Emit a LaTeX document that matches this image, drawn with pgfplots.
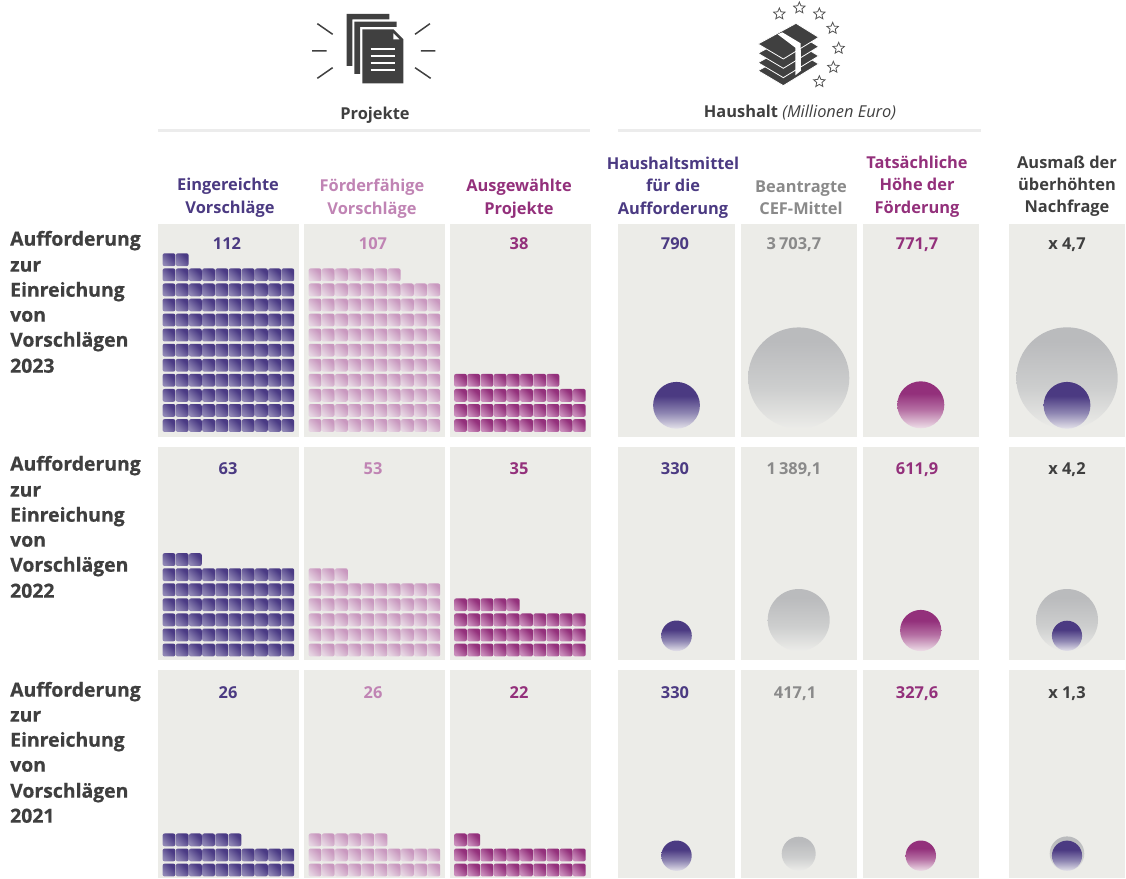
\documentclass[border=0pt]{standalone}
\usepackage{pgfplots}
\pgfplotsset{compat=1.18}
\usepackage{pgfplotstable}
\usepackage{fontspec}
\usetikzlibrary{shapes.geometric}
\setmainfont{Open Sans}
\newfontfamily\heavyfont[FakeBold=0.6]{Open Sans Bold}
\definecolor{cP}{HTML}{4B3A82}
\definecolor{cK}{HTML}{C084B4}
\definecolor{cM}{HTML}{93307B}
\definecolor{cG}{HTML}{8A8A8A}
\definecolor{cD}{HTML}{3F3F3F}
\definecolor{cBg}{HTML}{ECECE8}
\definecolor{cRule}{HTML}{ECECEC}
\definecolor{cIcon}{HTML}{404040}
\definecolor{wP1}{HTML}{8F86B4}\definecolor{wP2}{HTML}{4A3A84}
\definecolor{wK1}{HTML}{E6D5E2}\definecolor{wK2}{HTML}{C998BF}
\definecolor{wM1}{HTML}{C98DBB}\definecolor{wM2}{HTML}{93307B}
\definecolor{bP0}{HTML}{E4E2EA}\definecolor{bP1}{HTML}{8E86B2}\definecolor{bP2}{HTML}{4B3A82}
\definecolor{bM0}{HTML}{EEDFE8}\definecolor{bM1}{HTML}{B56FA3}\definecolor{bM2}{HTML}{93307B}
\definecolor{bG0}{HTML}{ECECE9}\definecolor{bG1}{HTML}{CDCECE}\definecolor{bG2}{HTML}{BABBBD}
\pgfdeclareverticalshading{wafP}{100bp}{color(0bp)=(wP1);color(25bp)=(wP1);color(68bp)=(wP2);color(100bp)=(wP2)}
\pgfdeclareverticalshading{wafK}{100bp}{color(0bp)=(wK1);color(25bp)=(wK1);color(70bp)=(wK2);color(100bp)=(wK2)}
\pgfdeclareverticalshading{wafM}{100bp}{color(0bp)=(wM1);color(25bp)=(wM1);color(68bp)=(wM2);color(100bp)=(wM2)}
\pgfdeclareverticalshading{bubP}{100bp}{color(0bp)=(bP0);color(25bp)=(bP0);color(42bp)=(bP1);color(60bp)=(bP2);color(100bp)=(bP2)}
\pgfdeclareverticalshading{bubM}{100bp}{color(0bp)=(bM0);color(25bp)=(bM0);color(45bp)=(bM1);color(62bp)=(bM2);color(100bp)=(bM2)}
\pgfdeclareverticalshading{bubG}{100bp}{color(0bp)=(bG0);color(25bp)=(bG0);color(45bp)=(bG1);color(68bp)=(bG2);color(100bp)=(bG2)}
\pgfdeclareplotmark{sqP}{\path[draw=none,shading=wafP,shade,shading angle=-45,rounded corners=2pt] (-6.4pt,-6.4pt) rectangle (6.4pt,6.4pt);}
\pgfdeclareplotmark{sqK}{\path[draw=none,shading=wafK,shade,shading angle=-45,rounded corners=2pt] (-6.4pt,-6.4pt) rectangle (6.4pt,6.4pt);}
\pgfdeclareplotmark{sqM}{\path[draw=none,shading=wafM,shade,shading angle=-45,rounded corners=2pt] (-6.4pt,-6.4pt) rectangle (6.4pt,6.4pt);}
\pgfdeclareplotmark{cP}{\path[draw=none,shading=bubP,shade] (0pt,0pt) circle[radius=\pgfplotmarksize];}
\pgfdeclareplotmark{cM}{\path[draw=none,shading=bubM,shade] (0pt,0pt) circle[radius=\pgfplotmarksize];}
\pgfdeclareplotmark{cG}{\path[draw=none,shading=bubG,shade] (0pt,0pt) circle[radius=\pgfplotmarksize];}
% waffle grid: column, row of each successive unit
\pgfplotstableread[row sep=\\]{
c r\\
0 0\\1 0\\2 0\\3 0\\4 0\\5 0\\6 0\\7 0\\8 0\\9 0\\
0 1\\1 1\\2 1\\3 1\\4 1\\5 1\\6 1\\7 1\\8 1\\9 1\\
0 2\\1 2\\2 2\\3 2\\4 2\\5 2\\6 2\\7 2\\8 2\\9 2\\
0 3\\1 3\\2 3\\3 3\\4 3\\5 3\\6 3\\7 3\\8 3\\9 3\\
0 4\\1 4\\2 4\\3 4\\4 4\\5 4\\6 4\\7 4\\8 4\\9 4\\
0 5\\1 5\\2 5\\3 5\\4 5\\5 5\\6 5\\7 5\\8 5\\9 5\\
0 6\\1 6\\2 6\\3 6\\4 6\\5 6\\6 6\\7 6\\8 6\\9 6\\
0 7\\1 7\\2 7\\3 7\\4 7\\5 7\\6 7\\7 7\\8 7\\9 7\\
0 8\\1 8\\2 8\\3 8\\4 8\\5 8\\6 8\\7 8\\8 8\\9 8\\
0 9\\1 9\\2 9\\3 9\\4 9\\5 9\\6 9\\7 9\\8 9\\9 9\\
0 10\\1 10\\2 10\\3 10\\4 10\\5 10\\6 10\\7 10\\8 10\\9 10\\
0 11\\1 11\\2 11\\3 11\\4 11\\5 11\\6 11\\7 11\\8 11\\9 11\\
}\gridtable
\newcommand{\waffle}[4]{\addplot[only marks,mark=#4,skip coords between index={#3}{200}] table[x expr={#1+13.2*\thisrow{c}},y expr={#2-15.07*\thisrow{r}}] {\gridtable};}
\newcommand{\bub}[4]{\addplot[only marks,mark=#1,mark size=#4] coordinates {(#2,#3)};}
\newcommand{\panel}[4]{\fill[cBg] (axis cs:#1,#3) rectangle (axis cs:#2,#4);}
\newcommand{\hd}[4]{\node[anchor=mid,yshift=-3.6pt,inner sep=0pt,text=#1,font=\fontsize{16.4}{18}\selectfont\bfseries] at (axis cs:#2,#3) {#4};}
\newcommand{\val}[4]{\node[anchor=mid,yshift=-4pt,inner sep=0pt,text=#1,font=\fontsize{16.4}{18}\selectfont\bfseries] at (axis cs:#2,#3) {#4};}
\newcommand{\rowl}[2]{\node[anchor=mid west,yshift=-4pt,inner sep=0pt,text=cD,font=\fontsize{19.4}{22}\heavyfont] at (axis cs:10,#1) {#2};}
\begin{document}
\begin{tikzpicture}[x=1pt,y=1pt]
\useasboundingbox (0pt,0pt) rectangle (1126pt,878pt);
\begin{axis}[at={(0pt,0pt)},anchor=south west,width=1126pt,height=878pt,scale only axis,
  xmin=0,xmax=1126,ymin=0,ymax=878,y dir=reverse,hide axis,clip=false]
% panels
\panel{158}{299}{224}{437}\panel{304}{445}{224}{437}\panel{450}{591}{224}{437}
\panel{618}{734.5}{224}{437}\panel{740.5}{857}{224}{437}\panel{863}{979}{224}{437}\panel{1009}{1125}{224}{437}
\panel{158}{299}{447}{660}\panel{304}{445}{447}{660}\panel{450}{591}{447}{660}
\panel{618}{734.5}{447}{660}\panel{740.5}{857}{447}{660}\panel{863}{979}{447}{660}\panel{1009}{1125}{447}{660}
\panel{158}{299}{670}{878}\panel{304}{445}{670}{878}\panel{450}{591}{670}{878}
\panel{618}{734.5}{670}{878}\panel{740.5}{857}{670}{878}\panel{863}{979}{670}{878}\panel{1009}{1125}{670}{878}
% header rules
\fill[cRule] (axis cs:158,129) rectangle (axis cs:590,132);
\fill[cRule] (axis cs:618,129) rectangle (axis cs:981,132);
% waffles
\waffle{169}{425.5}{112}{sqP}
\waffle{315}{425.5}{107}{sqK}
\waffle{460.5}{425.5}{38}{sqM}
\waffle{169}{650}{63}{sqP}
\waffle{315}{650}{53}{sqK}
\waffle{460.5}{650}{35}{sqM}
\waffle{169}{870}{26}{sqP}
\waffle{315}{870}{26}{sqK}
\waffle{460.5}{870}{22}{sqM}
% bubbles
\bub{cP}{676.5}{405.3}{23.4}
\bub{cG}{798.7}{378}{50.6}
\bub{cM}{920.8}{404.8}{23.5}
\bub{cG}{1067}{378}{50.7}
\bub{cP}{1067}{405.3}{23.4}
\bub{cP}{676.5}{635.8}{15.3}
\bub{cG}{798.7}{620}{31}
\bub{cM}{920.7}{630.5}{20.6}
\bub{cG}{1067}{620}{31}
\bub{cP}{1067}{635.8}{15.1}
\bub{cP}{676.5}{855.7}{15.2}
\bub{cG}{798.7}{853.7}{17}
\bub{cM}{920.8}{855.7}{15.2}
\bub{cG}{1067}{853.7}{17.3}
\bub{cP}{1067}{855.7}{15.1}
% headings
\node[anchor=mid,yshift=-3.6pt,inner sep=0pt,text=cD,font=\fontsize{16.4}{18}\selectfont\bfseries] at (axis cs:375,113) {Projekte};
\node[anchor=mid,yshift=-3.6pt,inner sep=0pt,text=cD,font=\fontsize{16.4}{18}\selectfont] at (axis cs:800,111) {\textbf{Haushalt} \textit{(Millionen Euro)}};
\hd{cP}{228}{184}{Eingereichte}\hd{cP}{230}{207}{Vorschläge}
\hd{cK}{372}{185}{Förderfähige}\hd{cK}{372}{208}{Vorschläge}
\hd{cM}{519}{185}{Ausgewählte}\hd{cM}{519}{208}{Projekte}
\hd{cP}{673}{163}{Haushaltsmittel}\hd{cP}{673}{185}{für die}\hd{cP}{673}{208}{Aufforderung}
\hd{cG}{801}{186}{Beantragte}\hd{cG}{801}{208}{CEF-Mittel}
\hd{cM}{917}{162}{Tatsächliche}\hd{cM}{917}{184}{Höhe der}\hd{cM}{917}{207}{Förderung}
\hd{cD}{1067}{162}{Ausmaß der}\hd{cD}{1067}{184}{überhöhten}\hd{cD}{1067}{206}{Nachfrage}
% values
\val{cP}{227}{243}{112}\val{cK}{373}{243}{107}\val{cM}{519}{243}{38}
\val{cP}{675}{243}{790}\val{cG}{794}{243}{3\hspace{3pt}703,7}\val{cM}{917}{243}{771,7}\val{cD}{1067}{243}{x 4,7}
\val{cP}{228}{468}{63}\val{cK}{373}{468}{53}\val{cM}{519}{468}{35}
\val{cP}{675}{468}{330}\val{cG}{794}{468}{1\hspace{3pt}389,1}\val{cM}{917}{468}{611,9}\val{cD}{1067}{468}{x 4,2}
\val{cP}{228}{692}{26}\val{cK}{373}{692}{26}\val{cM}{519}{692}{22}
\val{cP}{675}{692}{330}\val{cG}{795}{692}{417,1}\val{cM}{917}{692}{327,6}\val{cD}{1067}{692}{x 1,3}
% row labels
\rowl{239}{Aufforderung}\rowl{265}{zur}\rowl{290}{Einreichung}\rowl{315}{von}\rowl{340}{Vorschlägen}\rowl{366}{2023}
\rowl{464}{Aufforderung}\rowl{490}{zur}\rowl{515}{Einreichung}\rowl{540}{von}\rowl{565}{Vorschlägen}\rowl{591}{2022}
\rowl{690}{Aufforderung}\rowl{715}{zur}\rowl{740}{Einreichung}\rowl{765}{von}\rowl{791}{Vorschlägen}\rowl{816}{2021}
\end{axis}
% document icon
\begin{scope}[shift={(310pt,873pt)},x=0.3333pt,y=-0.3333pt]
\fill[cIcon] (110,27)--(238,27)--(238,43)--(127,43)--(127,183)--(110,183)--cycle;
\fill[cIcon] (133,50)--(260,50)--(260,66)--(150,66)--(150,207)--(133,207)--cycle;
\fill[cIcon] (157,73)--(250,73)--(280,103)--(280,235)--(157,235)--cycle;
\fill[white] (250,85)--(268,103)--(250,103)--cycle;
\draw[white,line width=1.6pt] (182,132)--(256,132) (182,153)--(256,153) (182,174)--(256,174) (182,195)--(256,195);
\draw[cIcon,line width=1.5pt] (22,56)--(68,88) (360,56)--(315,88) (6,138)--(50,138) (333,138)--(376,138) (22,220)--(68,188) (315,188)--(362,220);
\end{scope}
% money icon
\begin{scope}[shift={(750pt,878pt)},x=0.3333pt,y=-0.3333pt]
\foreach \d in {80,56,28,0}{
\filldraw[fill=cIcon,draw=white,line width=0.8pt] (24,132+\d)--(138,70+\d)--(206,112+\d)--(100,177+\d)--cycle;
}
\fill[white] (83,103)--(97,97)--(152,130)--(153,212)--(136,226)--(136,143)--cycle;
\foreach \a/\b in {88/42,148/24,208/42,248/85,266/145,250/202,208/245}{
\node[star,star points=5,star point ratio=2.2,draw=cIcon!90,line width=0.8pt,fill=white,inner sep=0pt,minimum size=12pt] at (\a,\b) {};
}
\end{scope}
\end{tikzpicture}
\end{document}
